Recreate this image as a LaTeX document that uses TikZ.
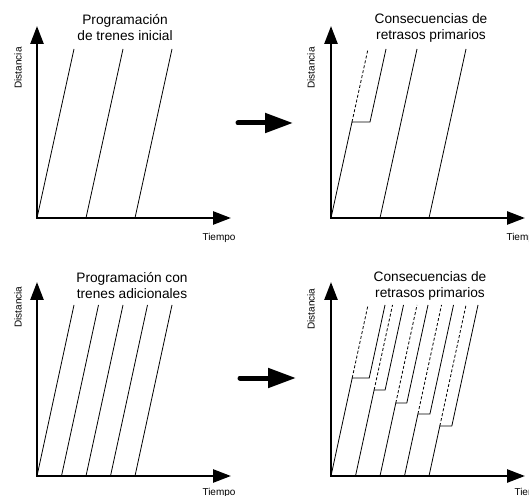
\documentclass[tikz,border=0pt]{standalone}
\usepackage{fontspec}
\setmainfont{Liberation Sans}
\usetikzlibrary{arrows.meta}
\begin{document}
\begin{tikzpicture}[x=1pt,y=1pt,
    axis/.style={line width=2.6pt, line join=miter, {Triangle[length=18pt,width=13pt]}-{Triangle[length=18pt,width=13pt]}},
    train/.style={line width=0.8pt},
    planned/.style={train, dash pattern=on 3pt off 2pt},
    next arrow/.style={line width=5pt, line cap=round, -{Triangle[length=28pt,width=19pt]}},
    title/.style={align=center, font=\fontsize{13.7}{16}\selectfont},
    axislabel/.style={font=\fontsize{10}{12}\selectfont}]
  \useasboundingbox (0,0) rectangle (529,495);
  % initial schedule
  \begin{scope}[shift={(37,277)}]
    \draw [axis] (0,192) -- (0,0) -- (194,0);
    \node [axislabel, rotate=90] (dist1) at (-19,150) {Distancia};
    \node [axislabel] (time1) at (182,-20) {Tiempo};
    \node [title] (title1) at (88,190) {Programación\\de trenes inicial};
    \foreach \s in {0,49,98}
      \draw [train] (\s,0) -- ++(37,169);
  \end{scope}
  % primary delay, initial schedule
  \begin{scope}[shift={(331,277)}]
    \draw [axis] (0,192) -- (0,0) -- (194,0);
    \node [axislabel, rotate=90] (dist2) at (-20,150) {Distancia};
    \node [axislabel] (time2) at (192,-20) {Tiempo};
    \node [title] (title2) at (100,190) {Consecuencias de\\retrasos primarios};
    \draw [train] (0,0) -- (21,96) coordinate (delay1) -- (39,96) -- (55,169);
    \draw [planned] (delay1) -- (37,169);
    \foreach \s in {49,98}
      \draw [train] (\s,0) -- ++(37,169);
  \end{scope}
  % schedule with extra trains
  \begin{scope}[shift={(37,19)}]
    \draw [axis] (0,194) -- (0,0) -- (194,0);
    \node [axislabel, rotate=90] (dist3) at (-19,169) {Distancia};
    \node [axislabel] (time3) at (182,-17) {Tiempo};
    \node [title] (title3) at (95,190) {Programación con\\trenes adicionales};
    \foreach \s in {0,24.5,49,73.5,98}
      \draw [train] (\s,0) -- ++(37,171);
  \end{scope}
  % primary delays, extra trains
  \begin{scope}[shift={(331,19)}]
    \draw [axis] (0,194) -- (0,0) -- (194,0);
    \node [axislabel, rotate=90] (dist4) at (-20,167) {Distancia};
    \node [axislabel] (time4) at (200,-17) {Tiempo};
    \node [title] (title4) at (99,190) {Consecuencias de\\retrasos primarios};
    \foreach \s/\h/\d in {0/98/17, 24.5/86/11, 49/73/11, 73.5/62/12, 98/50/12} {
      \draw [train] (\s,0) -- ({\s+37*\h/171},\h) coordinate (delay) -- ++(\d,0) -- ++({37*(171-\h)/171},{171-\h});
      \draw [planned] (delay) -- ++({37*(171-\h)/171},{171-\h});
    }
  \end{scope}
  % arrows between panels
  \coordinate (top from) at (238,372);
  \coordinate (top to) at (293,372);
  \coordinate (bottom from) at (240,117);
  \coordinate (bottom to) at (296,117);
  \draw [next arrow] (top from) -- (top to);
  \draw [next arrow] (bottom from) -- (bottom to);
\end{tikzpicture}
\end{document}
